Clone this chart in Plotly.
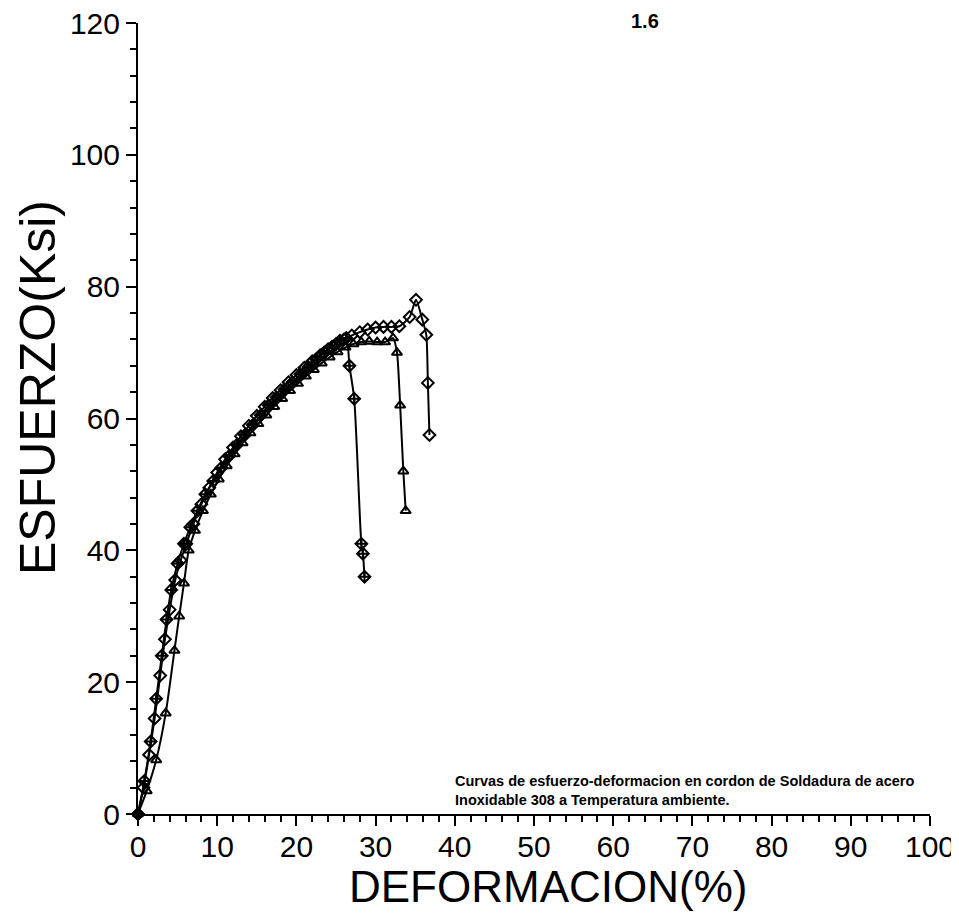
import plotly.graph_objects as go

# ---- data (strain %, stress ksi) ----
strain_1 = [0, 0.8, 1.6, 2.3, 3.0, 3.6, 4.2, 5.0, 5.8, 6.6, 7.5, 8.5, 9.5, 10.5, 11.5, 12.5,
            13.5, 14.5, 15.5, 16.5, 17.5, 18.5, 19.5, 20.5, 21.5, 22.5, 23.5, 24.5, 25.5,
            26.3, 26.7, 27.3, 28.2, 28.4, 28.6]
stress_1 = [0, 5, 11, 17.5, 24, 29.5, 34, 38, 41, 43.5, 46, 48.5, 50.5, 52.5, 54.3, 56,
            57.5, 59, 60.5, 62, 63.2, 64.4, 65.5, 66.7, 67.8, 69, 70, 70.9, 71.8,
            72.2, 68, 63, 41, 39.5, 36]

strain_2 = [0, 1.1, 2.3, 3.5, 4.6, 5.2, 5.8, 6.4, 7.2, 8.2, 9.2, 10.2, 11.2, 12.2, 13.2,
            14.2, 15.2, 16.2, 17.2, 18.2, 19.2, 20.2, 21.2, 22.2, 23.2, 24.2, 25.2, 26.2,
            27.2, 28.2, 29.2, 30.2, 31.2, 32.2, 32.7, 33.1, 33.5, 33.8]
stress_2 = [0, 3.5, 8.2, 15.3, 24.8, 30, 35, 40, 43, 46, 48.5, 50.8, 52.8, 54.6, 56.3,
            57.8, 59.2, 60.5, 61.8, 63, 64.2, 65.3, 66.4, 67.4, 68.4, 69.3, 70.1, 70.8,
            71.3, 71.6, 71.7, 71.6, 71.6, 72.2, 70, 62, 52, 46]

strain_3 = [0, 0.7, 1.4, 2.1, 2.8, 3.4, 4.0, 4.7, 5.4, 6.1, 7.0, 8.0, 9.0, 10.0, 11.0, 12.0,
            13.0, 14.0, 15.0, 16.0, 17.0, 18.0, 19.0, 20.0, 21.0, 22.0, 23.0, 24.0, 25.0,
            26.0, 27.0, 28.0, 29.0, 30.0, 31.0, 32.0, 33.0, 34.3, 35.1, 35.9, 36.4, 36.6, 36.8]
stress_3 = [0, 4, 9, 14.5, 21, 26.5, 31, 35.5, 38.5, 41, 44, 47, 49.5, 51.8, 53.8, 55.6,
            57.3, 58.9, 60.4, 61.8, 63.1, 64.3, 65.5, 66.6, 67.7, 68.7, 69.6, 70.5, 71.3,
            72, 72.6, 73.1, 73.5, 73.8, 73.9, 73.9, 74, 75.4, 78, 75, 72.7, 65.4, 57.5]

x_ticks = [0, 10, 20, 30, 40, 50, 60, 70, 80, 90, 100]
y_ticks = [0, 20, 40, 60, 80, 100, 120]

series = [
    (strain_1, stress_1, "diamond-cross-open"),
    (strain_2, stress_2, "triangle-up-open"),
    (strain_3, stress_3, "diamond-open"),
]

fig = go.Figure()
for xs, ys, sym in series:
    fig.add_trace(go.Scatter(
        x=xs, y=ys, mode="lines+markers",
        line=dict(color="black", width=2, shape="spline", smoothing=0.6),
        marker=dict(symbol=sym, size=9, color="black", line=dict(color="black", width=2)),
        cliponaxis=False, showlegend=False,
    ))

FONT = "Liberation Sans, Arial, sans-serif"
tick_font = dict(family=FONT, size=30, color="black")

# the page body adds an 8 px offset; page coordinates below are corrected for it
OFF = 8
W, H = 959 - OFF, 914 - OFF
L, R, T, B = 138 - OFF, 29, 23 - OFF, 100
PW, PH = W - L - R, H - T - B


def px_x(p):
    return (p - OFF - L) / PW


def px_y(p):
    return (H - B - (p - OFF)) / PH


fig.update_layout(
    width=W, height=H,
    paper_bgcolor="white", plot_bgcolor="white",
    margin=dict(l=L, r=R, t=T, b=B),
    xaxis=dict(
        range=[0, 100], tickvals=x_ticks, ticktext=[str(v) for v in x_ticks],
        showline=True, linecolor="black", linewidth=2, showgrid=False, zeroline=False,
        ticks="outside", ticklen=10, tickwidth=2, tickcolor="black",
        minor=dict(dtick=2, ticks="outside", ticklen=6, tickwidth=2, tickcolor="black", showgrid=False),
        tickfont=tick_font, automargin=False, ticklabelstandoff=-5, ticklabeloverflow="allow",
    ),
    yaxis=dict(
        range=[0, 120], tickvals=y_ticks, ticktext=[str(v) for v in y_ticks],
        showline=True, linecolor="black", linewidth=2, showgrid=False, zeroline=False,
        ticks="outside", ticklen=10, tickwidth=2, tickcolor="black",
        minor=dict(dtick=4, ticks="outside", ticklen=6, tickwidth=2, tickcolor="black", showgrid=False),
        tickfont=tick_font, automargin=False, ticklabeloverflow="allow",
    ),
)

fig.add_annotation(
    text="DEFORMACION(%)", xref="paper", yref="paper", x=px_x(548), y=px_y(886),
    xanchor="center", yanchor="middle", showarrow=False,
    font=dict(family=FONT, size=44, color="black"),
)
fig.add_annotation(
    text="ESFUERZO(Ksi)", xref="paper", yref="paper", x=px_x(38), y=px_y(388),
    xanchor="center", yanchor="middle", showarrow=False, textangle=-90,
    font=dict(family=FONT, size=50, color="black"),
)
fig.add_annotation(
    text="<b>Curvas de esfuerzo-deformacion en cordon de Soldadura de acero<br>"
         "Inoxidable 308 a Temperatura ambiente.</b>",
    xref="paper", yref="paper", x=px_x(453), y=px_y(790),
    xanchor="left", yanchor="middle", align="left", showarrow=False,
    font=dict(family=FONT, size=14.5, color="black"),
)
fig.add_annotation(
    text="<b>1.6</b>", xref="paper", yref="paper", x=px_x(645), y=px_y(21),
    xanchor="center", yanchor="middle", showarrow=False,
    font=dict(family=FONT, size=20, color="black"),
)

fig.write_html("out.html")
